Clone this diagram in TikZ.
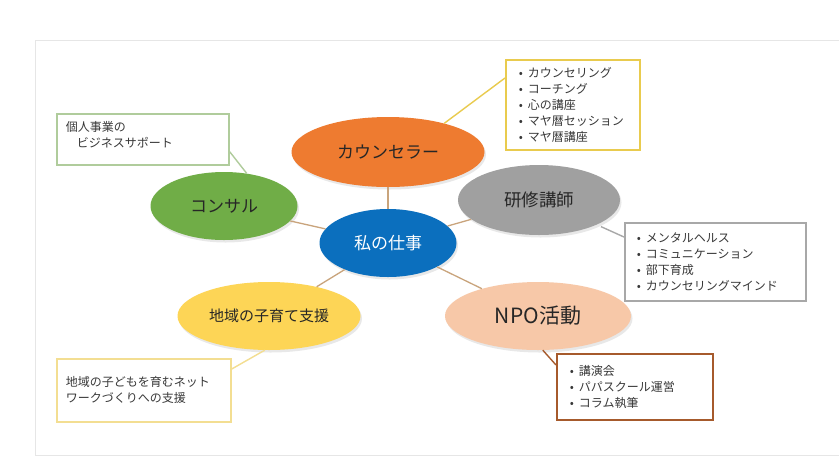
\documentclass[tikz,border=0pt]{standalone}
\usepackage{fontspec}
\setmainfont{Noto Sans CJK JP}
\usetikzlibrary{shapes.geometric,shadows,calc}
\definecolor{corange}{HTML}{EE7B30}
\definecolor{cgray}{HTML}{A0A0A0}
\definecolor{cgreen}{HTML}{70AD47}
\definecolor{cblue}{HTML}{0B6FBE}
\definecolor{cyellow}{HTML}{FDD556}
\definecolor{cpeach}{HTML}{F7C8A8}
\definecolor{clink}{HTML}{C9A47C}
\definecolor{bdyel}{HTML}{E9CB4E}
\definecolor{bdgreen}{HTML}{B0CC9C}
\definecolor{bdgray}{HTML}{A8A8A8}
\definecolor{bdlyel}{HTML}{F3DE92}
\definecolor{bdbrown}{HTML}{A65A2C}
\definecolor{ctext}{HTML}{383838}
\definecolor{cpanel}{HTML}{E6E6E6}
\tikzset{
  bub/.style={ellipse, inner sep=0pt, text=black!85,
    drop shadow={opacity=0.18, shadow xshift=1.5pt, shadow yshift=-2.5pt}},
  note/.style={rectangle, draw, line width=1.7pt, fill=white, anchor=north west,
    align=left, text=ctext, inner ysep=0pt,
    font=\fontsize{12}{16}\selectfont},
  link/.style={draw=clink, line width=1.3pt},
  callout/.style={line width=1.4pt},
}
\newcommand{\bul}{\makebox[9pt][l]{•}}
\begin{document}
\begin{tikzpicture}[x=1pt,y=-1pt]
\useasboundingbox (0,0) rectangle (839,459);
\fill[white] (0,0) rectangle (839,459);
\draw[cpanel, line width=0.8pt] (35,40) rectangle (860,455);

% callout boxes
\node[note, draw=bdyel, minimum width=134pt, minimum height=90pt, text width=108pt, inner xsep=13pt] (cbox) at (505,59)
  {\bul カウンセリング\\\bul コーチング\\\bul 心の講座\\\bul マヤ暦セッション\\\bul マヤ暦講座};
\node[note, draw=bdgreen, minimum width=172pt, minimum height=51pt, text width=154pt, inner xsep=9pt] (kbox) at (56,113)
  {個人事業の\\\hspace{11pt}ビジネスサポート\\[-6pt]\mbox{}};
\node[note, draw=bdgray, minimum width=181pt, minimum height=78pt, text width=157pt, inner xsep=12pt] (gbox) at (624,222)
  {\bul メンタルヘルス\\\bul コミュニケーション\\\bul 部下育成\\\bul カウンセリングマインド};
\node[note, draw=bdlyel, minimum width=172pt, minimum height=63pt, text width=156pt, inner xsep=9pt] (ybox) at (56,358)
  {地域の子どもを育むネット\\ワークづくりへの支援};
\node[note, draw=bdbrown, minimum width=156pt, minimum height=66pt, text width=130pt, inner xsep=13pt] (nbox) at (556,353)
  {\bul 講演会\\\bul パパスクール運営\\\bul コラム執筆};

% bubbles
\node[bub, fill=corange, minimum width=193pt, minimum height=70pt, font=\fontsize{17}{20}\selectfont] (couns) at (388,152) {カウンセラー};
\node[bub, fill=cgray, minimum width=162pt, minimum height=70pt, font=\fontsize{17.5}{20}\selectfont] (train) at (539,200) {研修講師};
\node[bub, fill=cgreen, minimum width=147pt, minimum height=68pt, font=\fontsize{17}{20}\selectfont] (consul) at (224,206) {コンサル};
\node[bub, fill=cyellow, minimum width=183pt, minimum height=68pt, font=\fontsize{15}{18}\selectfont] (child) at (269,316) {地域の子育て支援};
\node[bub, fill=cpeach, minimum width=186pt, minimum height=68pt, font=\fontsize{21}{24}\selectfont] (npo) at (538,316) {NPO活動};
\node[bub, fill=cblue, minimum width=137pt, minimum height=68pt, text=white, font=\fontsize{17}{20}\selectfont] (work) at (388,243) {私の仕事};

% links
\draw[link] (work) -- (couns);
\draw[link] (work) -- (train);
\draw[link] (work) -- (consul);
\draw[link] (work) -- (child);
\draw[link] (work) -- (npo);

% callout connectors
\draw[callout, bdyel] (couns.27) -- ($(cbox.north west)+(0,19)$);
\draw[callout, bdgreen] (consul.55) -- ($(kbox.south east)+(0,-14)$);
\draw[callout, bdgray] ($(train.-23)+(4,2)$) -- ($(gbox.north west)+(0,15)$);
\draw[callout, bdlyel] (child.-97) -- ($(ybox.north east)+(0,11)$);
\draw[callout, bdbrown] (npo.-82) -- ($(nbox.north west)+(0,12)$);
\end{tikzpicture}
\end{document}
